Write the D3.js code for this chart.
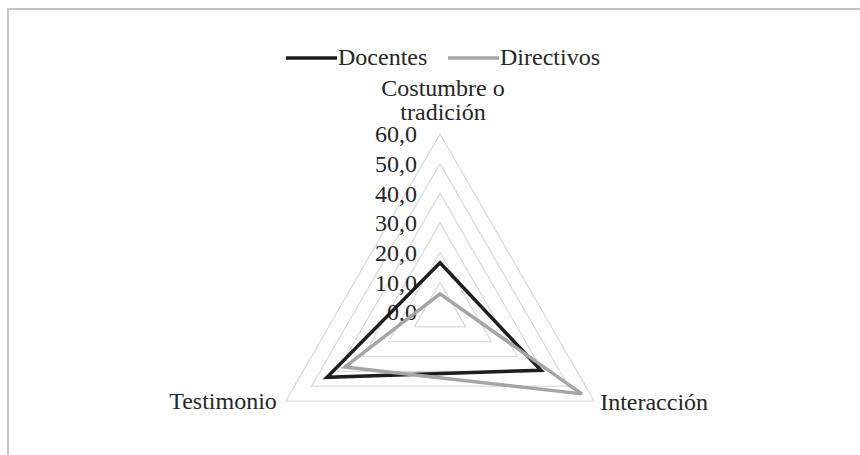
<!DOCTYPE html>
<html>
<head>
<meta charset="utf-8">
<script src="https://cdnjs.cloudflare.com/ajax/libs/d3/7.8.5/d3.min.js"></script>
<style>
    body { margin: 0; background: #fff; }
    svg { display: block; }
</style>
</head>
<body>
<div class="content"></div>
<script>
var categories = ["Costumbre o tradición", "Interacción", "Testimonio"];
var seriesNames = ["Docentes", "Directivos"];
var docentes = [16.6, 39.3, 44.0];
var directivos = [6.1, 55.2, 37.0];
var tickValues = [0, 10, 20, 30, 40, 50, 60];

(function (window) {
    'use strict';
    var opts = {
            width: 860,
            height: 455,
            cx: 440,
            cy: 312,
            radius: 178,
            fontSize: 24,
            fontFamily: "'Liberation Serif'",
            textColor: "#262626",
            gridColor: "#d9d9d9",
            colors: ["#1e1e1e", "#a5a5a5"]
        },
        series = [docentes, directivos],
        svg, r, angle, fmt, legend;

    svg = d3.select(".content").append("svg")
        .attr("width", opts.width)
        .attr("height", opts.height);

    function label(sel) {
        return sel.style("font-family", opts.fontFamily)
            .attr("font-size", opts.fontSize)
            .attr("fill", opts.textColor);
    }

    // chart frame (only top and left edges show)
    svg.append("path")
        .attr("d", "M8," + opts.height + "V9H" + opts.width)
        .attr("fill", "none")
        .attr("stroke", "#c3c3c3")
        .attr("stroke-width", 2);

    r = d3.scaleLinear().domain([0, 60]).range([0, opts.radius]);
    angle = function (i) {
        return i * 2 * Math.PI / categories.length;
    };
    fmt = function (v) {
        return d3.format(".1f")(v).replace(".", ",");
    };

    function point(v, i) {
        return [opts.cx + r(v) * Math.sin(angle(i)), opts.cy - r(v) * Math.cos(angle(i))];
    }

    // grid rings
    svg.append("g").selectAll("path")
        .data(tickValues.slice(1))
        .enter().append("path")
        .attr("d", function (t) {
            return d3.line()(categories.map(function (c, i) { return point(t, i); })) + "Z";
        })
        .attr("fill", "none")
        .attr("stroke", opts.gridColor)
        .attr("stroke-width", 1.2);

    // tick labels along the top axis
    svg.append("g").selectAll("text")
        .data(tickValues)
        .enter().append("text")
        .call(label)
        .attr("x", opts.cx - 23)
        .attr("y", function (t) { return opts.cy - r(t); })
        .attr("dy", "0.35em")
        .attr("text-anchor", "end")
        .text(fmt);

    // series
    svg.append("g").selectAll("path")
        .data(series)
        .enter().append("path")
        .attr("d", function (d) {
            return d3.line()(d.map(point)) + "Z";
        })
        .attr("fill", "none")
        .attr("stroke", function (d, i) { return opts.colors[i]; })
        .attr("stroke-width", 3.5)
        .attr("stroke-linejoin", "miter");

    // category labels
    svg.append("text")
        .call(label)
        .attr("text-anchor", "middle")
        .selectAll("tspan")
        .data(["Costumbre o", "tradición"])
        .enter().append("tspan")
        .attr("x", opts.cx + 3)
        .attr("y", function (d, i) { return 96 + i * 24; })
        .text(function (d) { return d; });

    svg.append("text")
        .call(label)
        .attr("x", point(60, 1)[0] + 6)
        .attr("y", 410)
        .text(categories[1]);

    svg.append("text")
        .call(label)
        .attr("x", point(60, 2)[0] - 9)
        .attr("y", 409)
        .attr("text-anchor", "end")
        .text(categories[2]);

    // legend
    legend = svg.append("g").selectAll("g")
        .data(seriesNames)
        .enter().append("g")
        .attr("transform", function (d, i) { return "translate(" + [286 + i * 162, 58] + ")"; });
    legend.append("line")
        .attr("x1", 0)
        .attr("x2", 51)
        .attr("stroke", function (d, i) { return opts.colors[i]; })
        .attr("stroke-width", 3.5);
    legend.append("text")
        .call(label)
        .attr("x", 52)
        .attr("y", 7)
        .text(function (d) { return d; });
}(window));
</script>
</body>
</html>
